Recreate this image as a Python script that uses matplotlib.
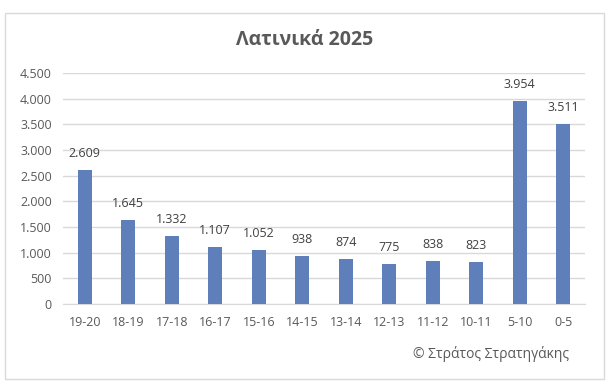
import matplotlib
matplotlib.use("Agg")
import matplotlib.pyplot as plt
from matplotlib.patches import FancyBboxPatch

plt.rcParams['font.family'] = ['Open Sans', 'DejaVu Sans']

categories = ["19-20", "18-19", "17-18", "16-17", "15-16", "14-15", "13-14",
              "12-13", "11-12", "10-11", "5-10", "0-5"]
values = [2609, 1645, 1332, 1107, 1052, 938, 874, 775, 838, 823, 3954, 3511]
yticks = [0, 500, 1000, 1500, 2000, 2500, 3000, 3500, 4000, 4500]
title = "Λατινικά 2025"
credit = "© Στράτος Στρατηγάκης"

def fmt(v):
    return f"{v:,}".replace(",", ".")

W, H = 612, 392
fig = plt.figure(figsize=(W / 100, H / 100), dpi=100)
fig.patch.set_facecolor("white")

# outer border
border = FancyBboxPatch((5 / W, 13 / H), (604 - 5) / W, (379 - 13) / H,
                        boxstyle="square,pad=0", transform=fig.transFigure,
                        facecolor="none", edgecolor="#D9D9D9", linewidth=1.0)
fig.patches.append(border)

ax = fig.add_axes([63 / W, (H - 304) / H, (585 - 63) / W, (304 - 73) / H])
x = list(range(len(categories)))
ax.bar(x, values, width=0.33, color="#5F7FBA", zorder=3)
ax.set_xlim(-0.5, len(categories) - 0.5)
ax.set_ylim(0, 4500)
ax.set_yticks(yticks)
ax.set_yticklabels([fmt(v) for v in yticks])
ax.set_xticks(x)
ax.set_xticklabels(categories)
ax.tick_params(axis='both', length=0, labelsize=9, colors="#595959")
ax.tick_params(axis='x', pad=9)
ax.tick_params(axis='y', pad=8)
ax.grid(axis='y', color="#D9D9D9", linewidth=1.0, zorder=0)
for s in ["top", "right", "left"]:
    ax.spines[s].set_visible(False)
ax.spines["bottom"].set_color("#D9D9D9")

for xi, v in zip(x, values):
    ax.annotate(fmt(v), (xi, v), xytext=(0, 7), textcoords="offset points",
                ha="center", va="bottom", fontsize=9, color="#404040")

fig.text(305 / W, 1 - 40 / H, title, ha="center", va="center",
         fontsize=14, fontweight="bold", color="#595959")
fig.text(569 / W, 1 - 354 / H, credit, ha="right", va="center",
         fontsize=10, color="#595959")

fig.savefig("out.png", dpi=100)
